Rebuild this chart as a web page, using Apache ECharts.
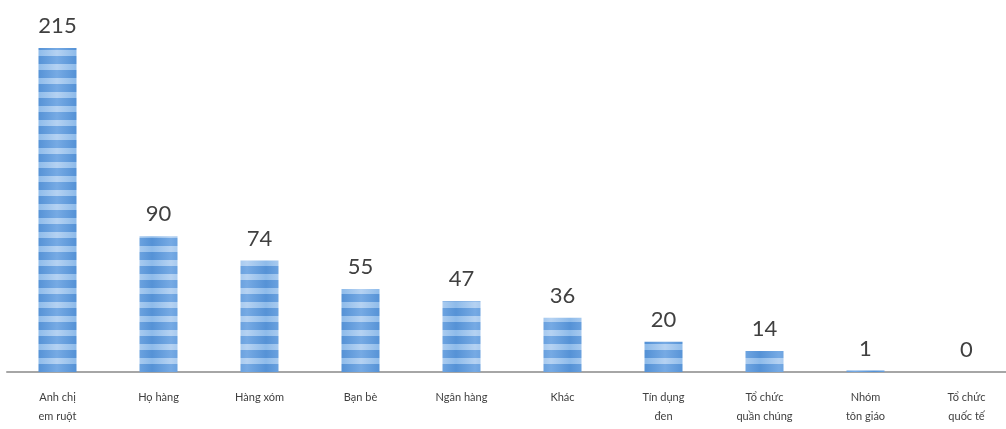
<!DOCTYPE html>
<html>
<head>
<meta charset="utf-8">
<script src="https://cdn.jsdelivr.net/npm/echarts@6/dist/echarts.min.js"></script>
<style>
html,body{margin:0;padding:0;background:#fff;overflow:hidden;}
#c{width:1017px;height:429px;}
</style>
</head>
<body>
<div id="c"></div>
<script>
const categories = ["Anh chị\nem ruột", "Họ hàng", "Hàng xóm", "Bạn bè", "Ngân hàng", "Khác", "Tín dụng\nđen", "Tổ chức\nquần chúng", "Nhóm\ntôn giáo", "Tổ chức\nquốc tế"];
const values = [215, 90, 74, 55, 47, 36, 20, 14, 1, 0];

// striped fill pattern
const pc = document.createElement('canvas');
pc.width = 38; pc.height = 14;
const ctx = pc.getContext('2d');
function band(y, h, edge, mid) {
  const g = ctx.createLinearGradient(0, 0, 38, 0);
  g.addColorStop(0, edge); g.addColorStop(0.5, mid); g.addColorStop(1, edge);
  ctx.fillStyle = g; ctx.fillRect(0, y, 38, h);
}
band(0, 8, '#5592d6', '#76aae4');
band(8, 6, '#8ebbea', '#b5d2f2');

const chart = echarts.init(document.getElementById('c'), null, {renderer: 'canvas'});
chart.setOption({
  animation: false,
  backgroundColor: '#ffffff',
  grid: {left: 7, right: 0, top: 48, bottom: 57, containLabel: false},
  xAxis: {
    type: 'category',
    data: categories,
    axisLine: {lineStyle: {color: '#a6a6a6', width: 2}},
    axisTick: {show: false},
    axisLabel: {
      interval: 0, color: '#404040', fontSize: 11, lineHeight: 19, margin: 16,
      fontFamily: 'Lato, "Liberation Sans", sans-serif'
    }
  },
  yAxis: {type: 'value', min: 0, max: 215, show: false, splitLine: {show: false}},
  series: [{
    type: 'bar',
    data: values,
    barWidth: 38,
    itemStyle: {color: {image: pc, repeat: 'repeat'}},
    label: {
      show: true, position: 'top', distance: 11,
      color: '#404040', fontSize: 22,
      fontFamily: 'Lato, "Liberation Sans", sans-serif'
    }
  }]
});
</script>
</body>
</html>
